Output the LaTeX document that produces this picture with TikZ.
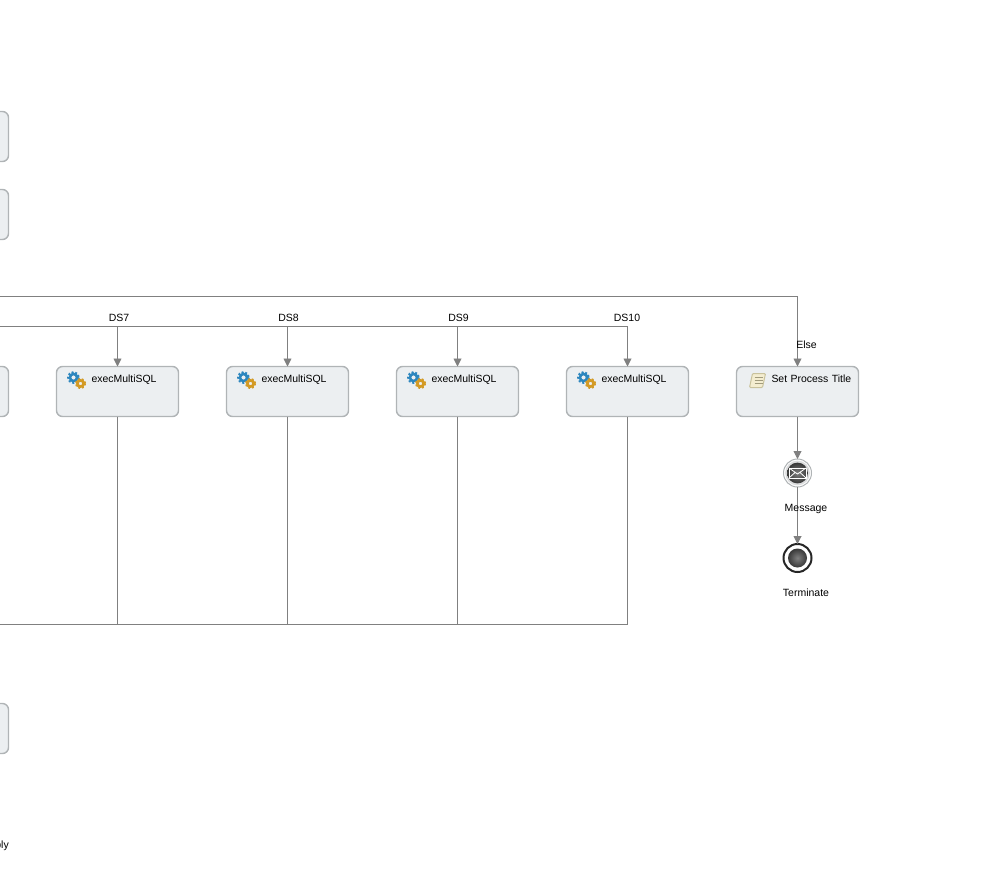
\documentclass[tikz,border=0pt]{standalone}
\usepackage{fontspec}
\setmainfont{Liberation Sans}
\usetikzlibrary{positioning,arrows.meta}

\definecolor{boxfill}{HTML}{ECEFF1}
\definecolor{boxline}{HTML}{B0B4B6}
\definecolor{flowgray}{HTML}{808080}
\definecolor{gearblue}{HTML}{2C86BE}
\definecolor{gearorange}{HTML}{D39A25}
\definecolor{scrollfill}{HTML}{F4EDD0}
\definecolor{scrollline}{HTML}{C9C29C}

\tikzset{
  taskbox/.style={draw=boxline, line width=1.4pt, fill=boxfill, rounded corners=6pt, rectangle,
    minimum width=122pt, minimum height=50pt, inner sep=0pt, outer sep=0pt},
  tasktext/.style={taskbox, font=\fontsize{10.45pt}{12pt}\selectfont, text width=122pt, align=left,
    text height=15.5pt, text depth=34.5pt},
  eventnode/.style={circle, minimum size=28pt, inner sep=0pt, outer sep=0pt, fill=white},
  flow/.style={draw=flowgray, line width=0.9pt},
  flowarrow/.style={flow, -{Triangle[length=8pt,width=8pt]}},
  lbl/.style={font=\fontsize{10.5pt}{12pt}\selectfont, inner sep=0pt, anchor=base},
  gear/.pic={
    \draw[#1, line width=2pt, dash pattern=on 2pt off 1.8pt] (0,0) circle (4.7);
    \draw[#1, line width=2.6pt] (0,0) circle (3.1);
  },
  gears/.pic={
    \pic[scale=1.15] at (17,11) {gear=gearblue};
    \pic at (24,17) {gear=gearorange};
  },
  scrollicon/.pic={
    \draw[scrollline, fill=scrollfill, line width=1pt, rounded corners=1pt]
      (16,7) -- (29,7) -- (26,21) -- (13,21) -- cycle;
    \foreach \y in {10.5,13.5,16.5}
      \draw[scrollline!80!black, line width=0.6pt] (18,\y) -- (26,\y);
  },
}

\newcommand{\taskname}[1]{\hspace*{35pt}#1}

\begin{document}
\begin{tikzpicture}[x=1pt,y=-1pt]
  \useasboundingbox (0,0) rectangle (1000,878);

  % boxes cut off at the left edge
  \node [taskbox] (top1) at (-52.5,136.5) {};
  \node [taskbox] (top2) at (-52.5,214.5) {};
  \node [taskbox] (bot1) at (-52.5,728.5) {};
  \node [lbl, anchor=base east] (plylbl) at (9,848) {ply};

  \node [taskbox] (ds6) at (-52.5,391.5) {};
  \node [tasktext, right=48pt of ds6]  (ds7)   {\taskname{execMultiSQL}};
  \node [tasktext, right=48pt of ds7]  (ds8)   {\taskname{execMultiSQL}};
  \node [tasktext, right=48pt of ds8]  (ds9)   {\taskname{execMultiSQL}};
  \node [tasktext, right=48pt of ds9]  (ds10)  {\taskname{execMultiSQL}};
  \node [tasktext, right=48pt of ds10] (title) {\taskname{Set Process Title}};

  \foreach \t in {ds7,ds8,ds9,ds10}
    \pic at (\t.north west) {gears};
  \pic at (title.north west) {scrollicon};

  \node [eventnode, below=42.5pt of title, draw=boxline, line width=1pt] (msg) {};
  \node [eventnode, below=57pt of msg, draw=black!85, line width=2pt] (term) {};

  % wires
  \coordinate (dsl) at (0,326);
  \coordinate (elsel) at (0,296);
  \coordinate (botl) at (0,624.5);
  \draw[flow] (dsl) -- (ds10.north |- dsl);
  \foreach \t in {ds7,ds8,ds9,ds10}
    \draw[flowarrow] (\t.north |- dsl) -- (\t.north);
  \draw[flowarrow] (elsel) -| (title.north);
  \draw[flow] (botl) -| (ds10.south);
  \foreach \t in {ds7,ds8,ds9}
    \draw[flow] (\t.south) -- (\t.south |- botl);
  \draw[flowarrow] (title.south) -- (msg.north);
  \draw[flowarrow] (msg.south) -- (term.north);

  % event inner parts
  \fill[boxline!45] (msg) circle (12.4);
  \shade[inner color=black!50, outer color=black!78] (msg) circle (10.4);
  \begin{scope}[shift={(msg.center)}]
    \draw[white, line width=0.8pt, line join=round] (-8.5,-5) rectangle (8.5,5);
    \draw[white, line width=0.8pt] (-8.5,-5) -- (0,1) -- (8.5,-5) (-8.5,5) -- (-2.5,-0.5) (8.5,5) -- (2.5,-0.5);
  \end{scope}
  \shade[inner color=black!50, outer color=black!78] (term) circle (9.5);

  \node [lbl] (ds7lbl) at (119,321) {DS7};
  \node [lbl] (ds8lbl) at (288.5,321) {DS8};
  \node [lbl] (ds9lbl) at (458.5,321) {DS9};
  \node [lbl] (ds10lbl) at (627,321) {DS10};
  \node [lbl] (elselbl) at (806.5,348) {Else};
  \node [lbl] (msglbl) at (806,511) {Message};
  \node [lbl] (termlbl) at (806,596) {Terminate};
\end{tikzpicture}
\end{document}
